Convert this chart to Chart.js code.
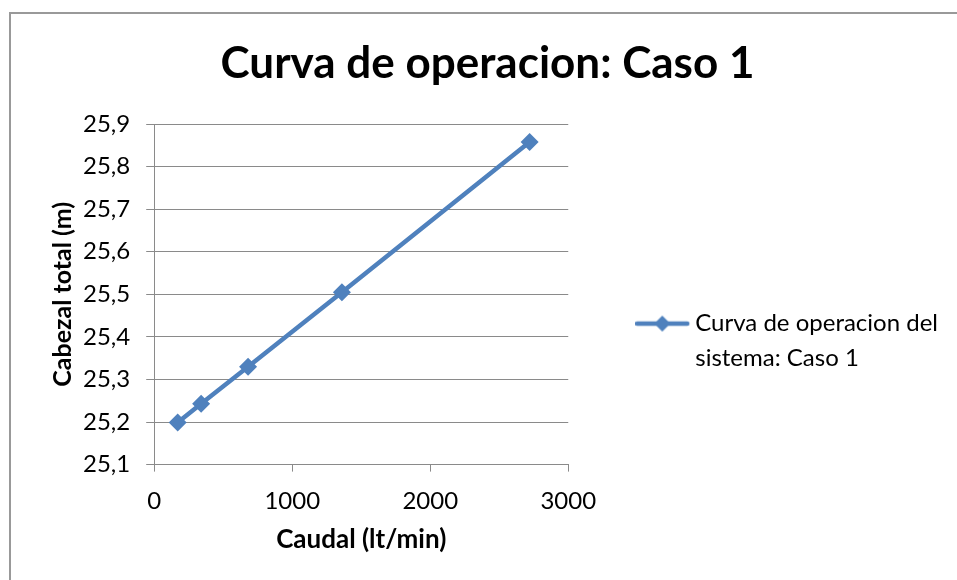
<!DOCTYPE html>
<html>
<head>
<meta charset="utf-8">
<script src="https://cdn.jsdelivr.net/npm/chart.js@4/dist/chart.umd.min.js"></script>
<style>
  html, body { margin: 0; padding: 0; background: #fff; }
  #wrap { position: relative; width: 957px; height: 580px; overflow: hidden; }
  #marco { position: absolute; left: 9px; top: 12px; width: 980px; height: 600px; border: 2px solid #999; box-sizing: border-box; }
  #grafica { position: absolute; left: 0; top: 0; }
</style>
</head>
<body>
<div id="wrap">
  <div id="marco"></div>
  <canvas id="grafica" width="957" height="580"></canvas>
</div>
<script>
// Datos
const caudal = [170, 340, 680, 1360, 2720];            // lt/min
const cabezal = [25.199, 25.243, 25.330, 25.505, 25.858]; // m
const tituloSerie = 'Curva de operacion del sistema: Caso 1';
const lineasLeyenda = ['Curva de operacion del', 'sistema: Caso 1'];
const ejeX = { min: 0, max: 3000, paso: 1000 };
const ejeY = { min: 25.1, max: 25.9, paso: 0.1 };

const azul = '#4F81BD';
const gris = '#8a8a8a';

Chart.defaults.font.family = 'Lato';
Chart.defaults.color = '#000';

// Icono de la leyenda: linea con rombo (estilo Excel)
const icono = document.createElement('canvas');
icono.width = 64;
icono.height = 20;
const ic = icono.getContext('2d');
ic.strokeStyle = azul;
ic.lineWidth = 4.5;
ic.lineCap = 'round';
ic.beginPath();
ic.moveTo(2, 10);
ic.lineTo(52, 10);
ic.stroke();
ic.fillStyle = azul;
ic.beginPath();
ic.moveTo(27, 2);
ic.lineTo(35, 10);
ic.lineTo(27, 18);
ic.lineTo(19, 10);
ic.closePath();
ic.fill();

const puntos = caudal.map((q, i) => ({ x: q, y: cabezal[i] }));

new Chart(document.getElementById('grafica'), {
  type: 'line',
  data: {
    datasets: [{
      label: tituloSerie,
      data: puntos,
      borderColor: azul,
      backgroundColor: azul,
      borderWidth: 4.5,
      pointStyle: 'rectRot',
      pointRadius: 9,
      pointBorderWidth: 0,
      tension: 0
    }]
  },
  options: {
    responsive: false,
    animation: false,
    layout: { padding: { left: 27, right: 9, top: 12, bottom: 14 } },
    plugins: {
      tooltip: { enabled: false },
      title: {
        display: true,
        text: 'Curva de operacion: Caso 1',
        font: { size: 44, weight: 'bold', lineHeight: 1.2 },
        padding: { top: 25.6, bottom: 33.6 }
      },
      legend: {
        position: 'right',
        align: 'end',
        fullSize: false,
        maxWidth: 420,
        labels: {
          font: { size: 24, lineHeight: 35 / 24 },
          padding: 83,
          usePointStyle: true,
          pointStyleWidth: 32,
          generateLabels: chart => chart.data.datasets.map((ds, i) => ({
            text: lineasLeyenda,
            fillStyle: ds.borderColor,
            strokeStyle: ds.borderColor,
            lineWidth: 0,
            pointStyle: icono,
            hidden: false,
            datasetIndex: i
          }))
        }
      }
    },
    scales: {
      x: {
        type: 'linear',
        min: ejeX.min,
        max: ejeX.max,
        ticks: { stepSize: ejeX.paso, font: { size: 24 }, padding: 15, callback: v => String(v) },
        grid: { drawOnChartArea: false, color: gris, tickLength: 7 },
        border: { color: gris, width: 1 },
        title: {
          display: true,
          text: 'Caudal (lt/min)',
          font: { size: 26, weight: 'bold', lineHeight: 1.2 },
          padding: { top: -6, bottom: 10.4 }
        }
      },
      y: {
        min: ejeY.min,
        max: ejeY.max,
        ticks: {
          stepSize: ejeY.paso,
          font: { size: 24 },
          padding: 16,
          callback: v => v.toFixed(1).replace('.', ',')
        },
        grid: { color: gris, tickLength: 8 },
        border: { color: gris, width: 1 },
        title: {
          display: true,
          text: 'Cabezal total (m)',
          font: { size: 25, weight: 'bold', lineHeight: 1.2 },
          padding: { top: 21, bottom: -11 }
        }
      }
    }
  }
});
</script>
</body>
</html>
